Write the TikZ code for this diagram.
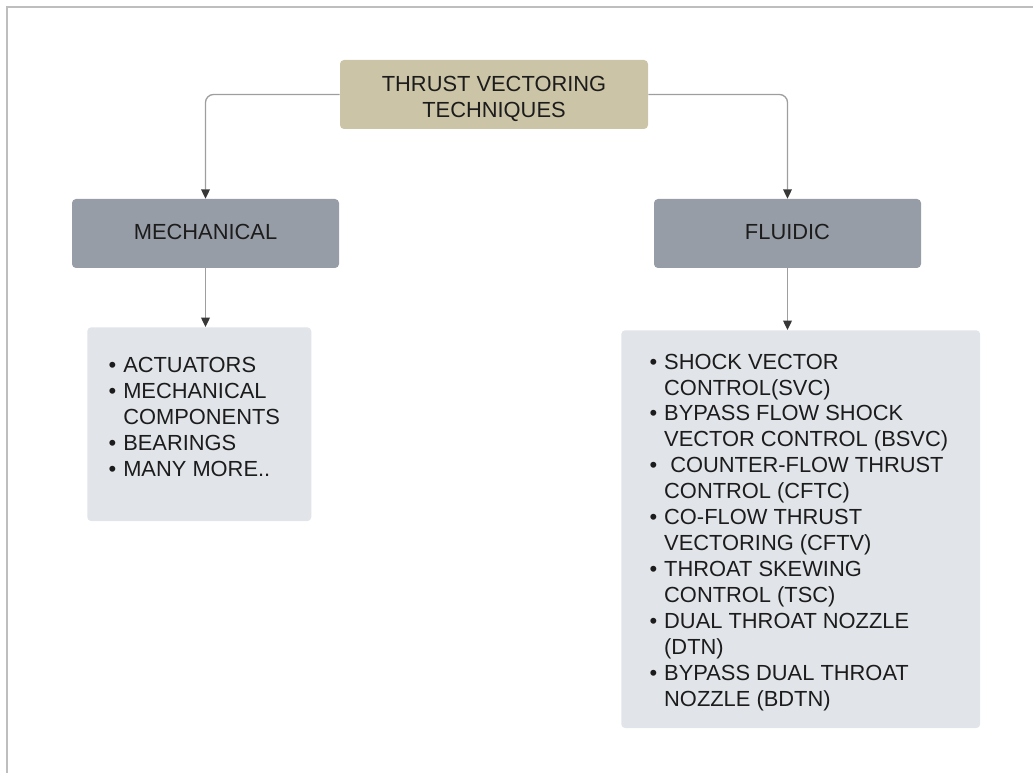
\documentclass[tikz,border=0pt]{standalone}
\usepackage{fontspec}
\setmainfont{Liberation Sans}
\usetikzlibrary{arrows.meta}
\definecolor{titletan}{RGB}{204,196,166}
\definecolor{branchgray}{RGB}{151,157,166}
\definecolor{listgray}{RGB}{225,228,233}
\definecolor{linegray}{RGB}{158,158,158}
\definecolor{framegray}{RGB}{190,190,190}
\definecolor{tipdark}{RGB}{55,55,55}
\definecolor{textdark}{RGB}{28,28,28}
\newcommand{\listitem}[1]{\par\hangindent=11pt\hangafter=1\noindent\makebox[11pt][l]{\textbullet}#1}

\begin{document}
\begin{tikzpicture}[
    x=0.75pt, y=-0.75pt,
    box/.style={rectangle,rounded corners=3pt,align=center,text=textdark,inner sep=0pt,
        minimum height=51.75pt,font=\fontsize{16.4}{18.9}\selectfont},
    listbox/.style={rectangle,rounded corners=3pt,fill=listgray,anchor=north west,text=textdark,
        font=\fontsize{16.4}{19.6}\selectfont},
    arrow/.style={draw=linegray,line width=1pt,rounded corners=6pt,
        -{Triangle[length=7pt,width=6.5pt,color=tipdark]}}
]
\useasboundingbox (0,0) rectangle (1033,773);
% frame of the sheet
\draw[framegray,line width=1.1pt] (7,773) -- (7,7) -- (1033,7);

\node[box,fill=titletan,minimum width=231pt,text height=37pt] (title) at (494,94.5) {THRUST VECTORING\\TECHNIQUES};
\node[box,fill=branchgray,minimum width=200.25pt,text depth=3pt] (mech) at (205.5,233.5) {MECHANICAL};
\node[box,fill=branchgray,minimum width=200.25pt,text depth=3pt] (fluid) at (787.5,233.5) {FLUIDIC};

\node[listbox,inner xsep=16pt,inner ysep=22.2pt] (mlist) at (87,327) {%
  \begin{minipage}[t][101pt][t]{136pt}
  \listitem{ACTUATORS}
  \listitem{MECHANICAL\\COMPONENTS}
  \listitem{BEARINGS}
  \listitem{MANY MORE..}
  \end{minipage}};
\node[listbox,inner xsep=21.2pt,inner ysep=17.7pt,font=\fontsize{16.4}{19.45}\selectfont] (flist) at (621,330) {%
  \begin{minipage}[t][263pt][t]{226.8pt}
  \listitem{SHOCK VECTOR\\CONTROL(SVC)}
  \listitem{BYPASS FLOW SHOCK\\VECTOR CONTROL (BSVC)}
  \listitem{\ COUNTER-FLOW THRUST\\CONTROL (CFTC)}
  \listitem{CO-FLOW THRUST\\VECTORING (CFTV)}
  \listitem{THROAT SKEWING\\CONTROL (TSC)}
  \listitem{DUAL THROAT NOZZLE\\(DTN)}
  \listitem{BYPASS DUAL THROAT\\NOZZLE (BDTN)}
  \end{minipage}};

\draw[arrow] (title.west) -| (mech.north);
\draw[arrow] (title.east) -| (fluid.north);
\draw[arrow] (mech.south) -- (mech.south |- mlist.north);
\draw[arrow] (fluid.south) -- (fluid.south |- flist.north);
\end{tikzpicture}
\end{document}
